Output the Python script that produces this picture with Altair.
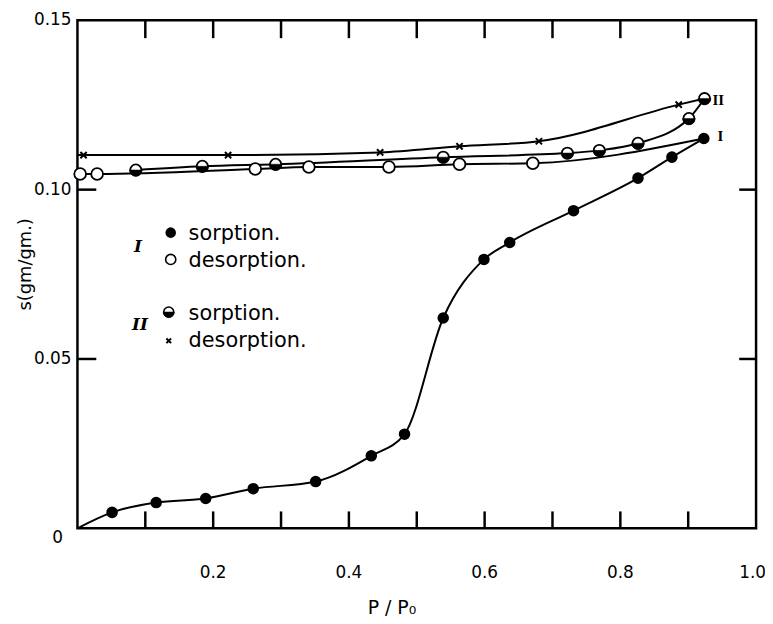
import altair as alt
import pandas as pd

# ---------------- data ----------------
# Curve I, sorption (filled circles)
sorp1_p = [0.051, 0.116, 0.189, 0.259, 0.351, 0.433, 0.482, 0.539, 0.599, 0.637, 0.731, 0.826, 0.876, 0.923]
sorp1_s = [0.0047, 0.0076, 0.0088, 0.0117, 0.0138, 0.0214, 0.0278, 0.0621, 0.0794, 0.0844, 0.0938, 0.1034, 0.1096, 0.1151]
# Curve I, desorption (open circles)
desorp1_p = [0.004, 0.029, 0.262, 0.341, 0.459, 0.563, 0.671]
desorp1_s = [0.1046, 0.1046, 0.1061, 0.1067, 0.1067, 0.1075, 0.1078]
# Curve II, sorption (half-filled circles)
sorp2_p = [0.086, 0.184, 0.292, 0.539, 0.722, 0.769, 0.826, 0.901, 0.924]
sorp2_s = [0.1058, 0.1069, 0.1075, 0.1096, 0.1108, 0.1116, 0.1137, 0.1210, 0.1269]
# Curve II, desorption (crosses)
desorp2_p = [0.009, 0.222, 0.446, 0.563, 0.680, 0.886]
desorp2_s = [0.1102, 0.1102, 0.1110, 0.1128, 0.1143, 0.1251]

# where the drawn curves start
sorp1_start = (0.0, 0.0)
desorp2_start = (0.0, 0.1102)

# axis ticks and labels
x_ticks = [0.1, 0.2, 0.3, 0.4, 0.5, 0.6, 0.7, 0.8, 0.9]
y_ticks = [0.05, 0.10]
x_label_vals = [0.2, 0.4, 0.6, 0.8]
x_label_txt = ["0.2", "0.4", "0.6", "0.8"]
x_last_val = [1.0]
x_last_txt = ["1.0"]
y_label_vals = [0.05, 0.10, 0.15]
y_label_txt = ["0.05", "0.10", "0.15"]
y_zero_txt = "0"
x_title = "P / P\u2080"
y_title = "s(gm/gm.)"

# ---------------- tables ----------------
def rows(series, ps, ss):
    return [{"series": series, "p": p, "s": s} for p, s in zip(ps, ss)]

line_rows = []
line_rows += rows("sorp1", [sorp1_start[0]] + sorp1_p, [sorp1_start[1]] + sorp1_s)
line_rows += rows("desorp1", desorp1_p + [sorp1_p[-1]], desorp1_s + [sorp1_s[-1]])
line_rows += rows("sorp2", sorp2_p, sorp2_s)
line_rows += rows("desorp2", [desorp2_start[0]] + desorp2_p + [sorp2_p[-1]],
                  [desorp2_start[1]] + desorp2_s + [sorp2_s[-1]])
lines_df = pd.DataFrame(line_rows)

sorp1_df = pd.DataFrame({"p": sorp1_p, "s": sorp1_s})
desorp1_df = pd.DataFrame({"p": desorp1_p, "s": desorp1_s})
sorp2_df = pd.DataFrame({"p": sorp2_p, "s": sorp2_s})
desorp2_df = pd.DataFrame({"p": desorp2_p, "s": desorp2_s})

W, H = 684, 512
FONT = "DejaVu Sans"

xscale = alt.Scale(domain=[0, 1], nice=False, zero=False)
yscale = alt.Scale(domain=[0, 0.15], nice=False, zero=False)

X = alt.X("p:Q", scale=xscale, axis=None)
Y = alt.Y("s:Q", scale=yscale, axis=None)

HALF = "M -1 0 A 1 1 0 0 0 1 0 Z"
XSHAPE = "M -1 -1 L 1 1 M -1 1 L 1 -1"

lines = alt.Chart(lines_df).mark_line(interpolate="monotone", color="black", strokeWidth=2).encode(
    x=X, y=Y, detail="series:N")

pts_sorp1 = alt.Chart(sorp1_df).mark_point(shape="circle", filled=True, color="black", size=135, opacity=1).encode(x=X, y=Y)
pts_desorp1 = alt.Chart(desorp1_df).mark_point(shape="circle", filled=True, fill="white", stroke="black",
                                                strokeWidth=1.8, size=140, opacity=1).encode(x=X, y=Y)
pts_sorp2_o = alt.Chart(sorp2_df).mark_point(shape="circle", filled=True, fill="white", stroke="black",
                                              strokeWidth=1.8, size=125, opacity=1).encode(x=X, y=Y)
pts_sorp2_h = alt.Chart(sorp2_df).mark_point(shape=HALF, filled=True, fill="black", stroke="black",
                                              strokeWidth=0.5, size=160, opacity=1).encode(x=X, y=Y)
pts_desorp2 = alt.Chart(desorp2_df).mark_point(shape=XSHAPE, filled=False, stroke="black",
                                                strokeWidth=2, size=40, opacity=1).encode(x=X, y=Y)

# inward ticks on all four sides
xt_df = pd.DataFrame({"t": x_ticks})
yt_df = pd.DataFrame({"t": y_ticks})
TL = 17
XT = alt.X("t:Q", scale=xscale, axis=None)
YT = alt.Y("t:Q", scale=yscale, axis=None)
tick_bottom = alt.Chart(xt_df).mark_rule(color="black", strokeWidth=2.5).encode(
    x=XT, y=alt.value(H), y2=alt.value(H - TL))
tick_top = alt.Chart(xt_df).mark_rule(color="black", strokeWidth=2.5).encode(
    x=XT, y=alt.value(0), y2=alt.value(TL + 1))
tick_left = alt.Chart(yt_df).mark_rule(color="black", strokeWidth=2.5).encode(
    y=YT, x=alt.value(0), x2=alt.value(TL + 2))
tick_right = alt.Chart(yt_df).mark_rule(color="black", strokeWidth=2.5).encode(
    y=YT, x=alt.value(W), x2=alt.value(W - TL))

# tick labels, placed through the scales
xl_df = pd.DataFrame({"t": x_label_vals, "lab": x_label_txt})
xl_last_df = pd.DataFrame({"t": x_last_val, "lab": x_last_txt})
yl_df = pd.DataFrame({"t": y_label_vals, "lab": y_label_txt})
xlabels = alt.Chart(xl_df).mark_text(align="center", baseline="middle", fontSize=17, font=FONT,
                                     color="black").encode(x=XT, y=alt.value(H + 45), text="lab:N")
xlabel_last = alt.Chart(xl_last_df).mark_text(align="right", baseline="middle", fontSize=17, font=FONT,
                                              color="black", dx=10).encode(x=XT, y=alt.value(H + 45), text="lab:N")
ylabels = alt.Chart(yl_df).mark_text(align="right", baseline="middle", fontSize=17, font=FONT,
                                     color="black").encode(y=YT, x=alt.value(-6), text="lab:N")


def text(t, x, y, size=21, font=FONT, style="normal", weight="normal", align="left", angle=0):
    return alt.Chart(pd.DataFrame({"t": [t]})).mark_text(
        align=align, baseline="middle", fontSize=size, font=font, fontStyle=style,
        fontWeight=weight, color="black", angle=angle).encode(x=alt.value(x), y=alt.value(y), text="t:N")


def marker(x, y, **kw):
    return alt.Chart(pd.DataFrame({"t": [0]})).mark_point(opacity=1, **kw).encode(
        x=alt.value(x), y=alt.value(y))


annotations = [
    text(y_zero_txt, -20, H + 10, size=17, align="center"),
    text(x_title, 317, 592, size=19, align="center"),
    text(y_title, -52, 246, size=18, align="center", angle=270),
    text("I", 57, 229, size=17, font="DejaVu Serif", style="italic", weight="bold"),
    marker(94, 214, shape="circle", filled=True, color="black", size=113),
    text("sorption.", 112, 215),
    marker(94, 241, shape="circle", filled=True, fill="white", stroke="black", strokeWidth=1.6, size=105),
    text("desorption.", 112, 243),
    text("II", 55, 307, size=17, font="DejaVu Serif", style="italic", weight="bold"),
    marker(92, 294, shape="circle", filled=True, fill="white", stroke="black", strokeWidth=1.6, size=100),
    marker(92, 294, shape=HALF, filled=True, fill="black", stroke="black", strokeWidth=0.5, size=127),
    text("sorption.", 112, 296),
    marker(92, 323, shape=XSHAPE, filled=False, stroke="black", strokeWidth=2, size=22),
    text("desorption.", 112, 323),
    text("II", 640, 80, size=15, font="Liberation Serif", weight="bold"),
    text("I", 645, 117, size=15, font="Liberation Serif", weight="bold"),
]

chart = alt.layer(
    lines, pts_sorp1, pts_desorp1, pts_sorp2_o, pts_sorp2_h, pts_desorp2,
    tick_bottom, tick_top, tick_left, tick_right, xlabels, xlabel_last, ylabels, *annotations
).properties(
    width=W, height=H,
    padding={"left": 70, "top": 10, "right": 9, "bottom": 88},
    autosize=alt.AutoSizeParams(type="none"),
    background="white",
).configure_view(stroke="black", strokeWidth=2.5)

chart.save("out.html", embed_options={"renderer": "svg", "actions": False})
